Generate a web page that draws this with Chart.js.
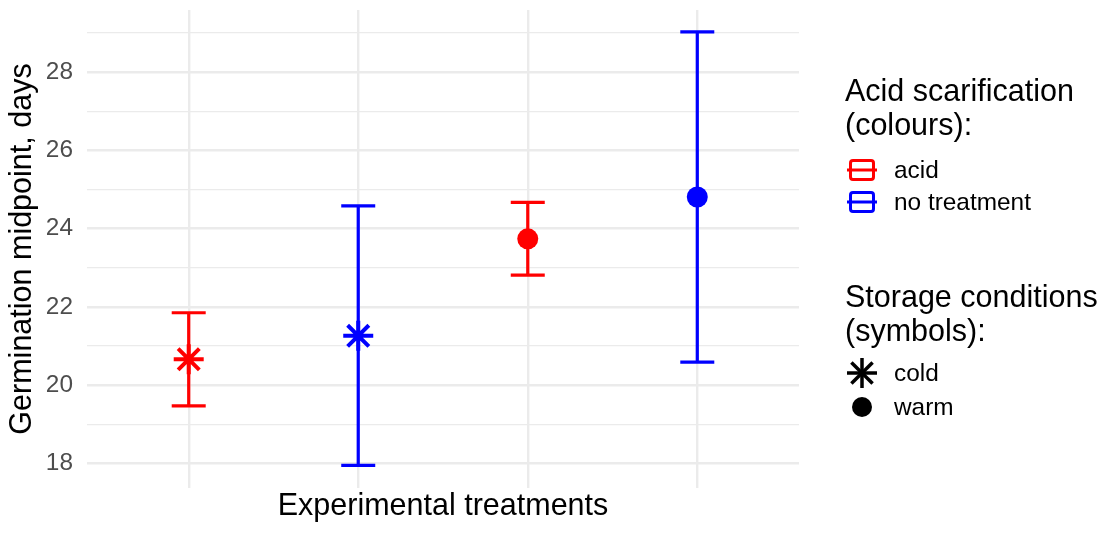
<!DOCTYPE html>
<html>
<head>
<meta charset="utf-8">
<script src="https://cdn.jsdelivr.net/npm/chart.js@4"></script>
<style>
  html, body { margin: 0; padding: 0; background: #fff; }
  #wrap { position: relative; width: 1109px; height: 533px; font-family: 'Liberation Sans', Arial, sans-serif; }
  #chart { position: absolute; left: 0; top: 0; }
  .lg-title { position: absolute; left: 845px; font-size: 30.5px; line-height: 34px; color: #000; white-space: nowrap; }
  .lg-item { position: absolute; left: 845px; height: 30px; display: flex; align-items: center; font-size: 24.4px; color: #000; white-space: nowrap; }
  .lg-item svg { width: 34px; height: 30px; margin-right: 15px; }
</style>
</head>
<body>
<div id="wrap">
  <canvas id="chart" width="1109" height="533"></canvas>
  <div class="lg-title" style="top:73px">Acid scarification<br>(colours):</div>
  <div class="lg-item" style="top:155px"><svg viewBox="0 0 34 30"><rect x="5.5" y="5.5" width="23" height="19" rx="2.5" fill="none" stroke="#FF0000" stroke-width="3"/><line x1="2" y1="15" x2="32" y2="15" stroke="#FF0000" stroke-width="3"/></svg>acid</div>
  <div class="lg-item" style="top:187px"><svg viewBox="0 0 34 30"><rect x="5.5" y="5.5" width="23" height="19" rx="2.5" fill="none" stroke="#0000FF" stroke-width="3"/><line x1="2" y1="15" x2="32" y2="15" stroke="#0000FF" stroke-width="3"/></svg>no treatment</div>
  <div class="lg-title" style="top:279px">Storage conditions<br>(symbols):</div>
  <div class="lg-item" style="top:358px"><svg viewBox="0 0 34 30"><g stroke="#000" stroke-width="3.5"><line x1="2" y1="15" x2="32" y2="15"/><line x1="17" y1="0" x2="17" y2="30"/><line x1="6.4" y1="4.4" x2="27.6" y2="25.6"/><line x1="6.4" y1="25.6" x2="27.6" y2="4.4"/></g></svg>cold</div>
  <div class="lg-item" style="top:392px"><svg viewBox="0 0 34 30"><circle cx="17" cy="15" r="10" fill="#000"/></svg>warm</div>
</div>
<script>
// Germination midpoint (days) with confidence intervals, per treatment
const treatments = ['acid, cold', 'no treatment, cold', 'acid, warm', 'no treatment, warm'];
const scarification = ['acid', 'no treatment', 'acid', 'no treatment'];
const storage = ['cold', 'cold', 'warm', 'warm'];
const midpoint = [20.66, 21.26, 23.74, 24.81];
const lowerCI = [19.47, 17.95, 22.81, 20.59];
const upperCI = [21.85, 24.58, 24.67, 29.03];
const yTicks = [18, 20, 22, 24, 26, 28];

const colourOf = { 'acid': '#FF0000', 'no treatment': '#0000FF' };
const shapeOf = { cold: 'star', warm: 'circle' };
const gridColor = '#EBEBEB';

// one line dataset per interval: the two end points are drawn as caps
const barSets = treatments.map((t, i) => ({
  type: 'line',
  label: t + ' interval',
  data: [{ x: i, y: lowerCI[i] }, { x: i, y: upperCI[i] }],
  borderColor: colourOf[scarification[i]],
  borderWidth: 3.2,
  pointStyle: 'line',
  pointRadius: 17,
  pointBorderWidth: 3.2,
  pointBorderColor: colourOf[scarification[i]],
  clip: false,
  order: 2,
}));

const pointSet = {
  type: 'scatter',
  label: 'midpoint',
  data: treatments.map((t, i) => ({ x: i, y: midpoint[i] })),
  pointStyle: storage.map(s => shapeOf[s]),
  pointRadius: storage.map(s => s === 'cold' ? 15 : 10.5),
  pointBackgroundColor: scarification.map(s => colourOf[s]),
  pointBorderColor: scarification.map(s => colourOf[s]),
  pointBorderWidth: storage.map(s => s === 'cold' ? 4 : 0),
  clip: false,
  order: 1,
};

new Chart(document.getElementById('chart'), {
  data: { datasets: [...barSets, pointSet] },
  options: {
    responsive: false,
    animation: false,
    layout: { autoPadding: false, padding: { top: 10, right: 310, left: 0, bottom: 0 } },
    plugins: { legend: { display: false }, tooltip: { enabled: false } },
    scales: {
      x: {
        type: 'linear',
        min: -0.6, max: 3.6,
        afterBuildTicks: s => { s.ticks = treatments.map((t, i) => ({ value: i })); },
        afterFit: s => { s.height = 45; s.paddingLeft = 0; s.paddingRight = 0; },
        ticks: { display: false },
        grid: { color: gridColor, lineWidth: 2.4, drawTicks: false },
        border: { display: false },
        title: {
          display: true, text: 'Experimental treatments', color: '#000',
          font: { family: "'Liberation Sans', Arial, sans-serif", size: 30.5, lineHeight: 1 },
          padding: { top: 0, bottom: 11 },
        },
      },
      y: {
        type: 'linear',
        min: 17.37, max: 29.59,
        afterBuildTicks: s => {
          s.ticks = [...yTicks, ...yTicks.map(v => v + 1)].sort((a, b) => a - b).map(v => ({ value: v }));
        },
        afterFit: s => { s.width = 87; s.paddingTop = 0; s.paddingBottom = 0; },
        ticks: {
          color: '#4D4D4D', padding: 14,
          font: { family: "'Liberation Sans', Arial, sans-serif", size: 24.4 },
          callback: v => yTicks.includes(v) ? String(v) : '',
        },
        grid: {
          color: gridColor, drawTicks: false,
          lineWidth: c => yTicks.includes(c.tick.value) ? 2.4 : 1.2,
        },
        border: { display: false },
        title: {
          display: true, text: 'Germination midpoint, days', color: '#000',
          font: { family: "'Liberation Sans', Arial, sans-serif", size: 30.5, lineHeight: 1 },
          padding: { top: 7, bottom: 0 },
        },
      },
    },
  },
});
</script>
</body>
</html>
